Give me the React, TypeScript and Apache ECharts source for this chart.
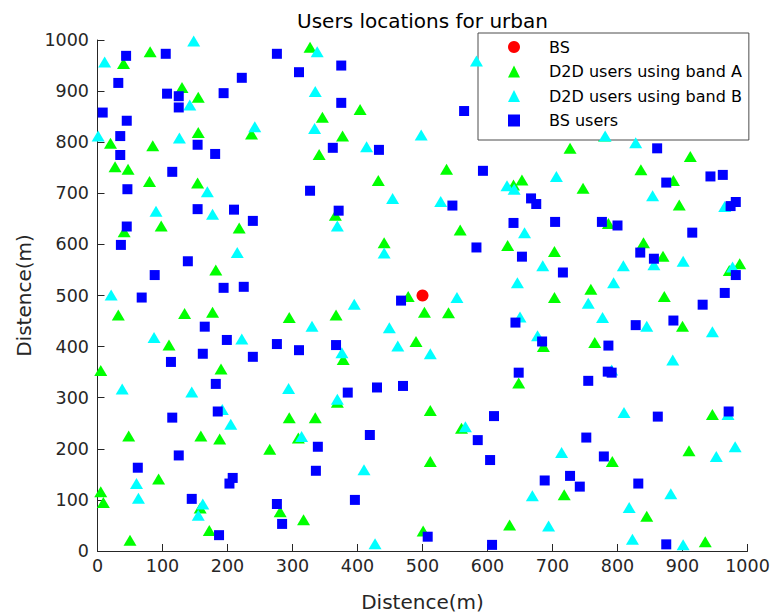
import React, { useEffect, useRef } from "react";
import * as echarts from "echarts";

const titleText = "Users locations for urban";
const xAxisName = "Distence(m)";
const yAxisName = "Distence(m)";
const seriesNames = ["BS", "D2D users using band A", "D2D users using band B", "BS users"];

const bsPoints: [number, number][] = [[500, 500]];

const bandAPoints: [number, number][] = [
  [327, 986], [81, 977], [40, 954], [130, 907], [155, 888], [155, 819], [237, 816], [20, 798], [85, 793],
  [27, 752], [47, 747], [80, 723], [154, 720], [404, 864], [346, 849], [377, 812], [341, 776], [537, 747],
  [432, 725], [653, 726], [640, 716], [780, 812], [727, 788], [912, 772], [836, 746], [886, 725], [747, 710],
  [895, 677], [41, 625], [98, 636], [218, 632], [182, 550], [32, 462], [134, 465], [177, 467], [295, 457],
  [110, 403], [5, 353], [190, 356], [366, 657], [558, 628], [441, 603], [631, 598], [478, 498], [503, 467],
  [540, 466], [367, 462], [490, 410], [378, 375], [648, 329], [786, 641], [840, 603], [870, 577], [703, 586],
  [988, 562], [972, 549], [759, 512], [703, 496], [872, 498], [900, 440], [686, 400], [765, 408], [295, 261],
  [335, 261], [48, 225], [159, 225], [188, 219], [309, 221], [265, 199], [94, 141], [5, 116], [9, 95],
  [158, 84], [281, 77], [317, 61], [172, 40], [50, 21], [369, 291], [512, 275], [560, 240], [512, 175],
  [501, 39], [634, 51], [946, 267], [792, 175], [910, 196], [718, 110], [845, 68], [935, 18],
];

const bandBPoints: [number, number][] = [
  [148, 998], [11, 957], [142, 873], [1, 812], [126, 808], [242, 830], [169, 703], [338, 977], [583, 959],
  [335, 899], [334, 827], [498, 814], [414, 791], [454, 690], [528, 684], [630, 715], [641, 708], [781, 812],
  [828, 799], [706, 733], [854, 695], [965, 674], [90, 665], [177, 659], [215, 584], [21, 501], [87, 418],
  [222, 415], [330, 440], [369, 636], [657, 623], [441, 583], [646, 525], [553, 496], [395, 483], [449, 437],
  [650, 458], [462, 401], [512, 386], [376, 388], [856, 560], [685, 558], [809, 558], [901, 567], [977, 556],
  [794, 525], [755, 485], [777, 457], [845, 440], [946, 429], [677, 421], [885, 374], [791, 354], [38, 317],
  [145, 311], [294, 318], [192, 277], [205, 248], [314, 224], [60, 132], [63, 103], [162, 92], [155, 70],
  [369, 297], [566, 243], [410, 159], [427, 14], [810, 271], [970, 267], [714, 193], [981, 204], [952, 185],
  [669, 108], [882, 112], [818, 85], [694, 49], [823, 23], [901, 12],
];

const bsUserPoints: [number, number][] = [
  [44, 969], [105, 973], [276, 973], [222, 926], [310, 937], [32, 916], [107, 895], [125, 890], [125, 868],
  [194, 896], [8, 858], [45, 842], [35, 812], [154, 795], [181, 777], [35, 775], [115, 742], [46, 708],
  [327, 705], [154, 669], [210, 668], [375, 950], [375, 877], [564, 861], [362, 789], [433, 785], [593, 744],
  [371, 666], [546, 676], [667, 690], [675, 679], [861, 788], [875, 721], [943, 733], [962, 736], [982, 683],
  [974, 675], [45, 635], [36, 599], [239, 646], [139, 567], [88, 540], [194, 515], [225, 517], [68, 496],
  [165, 439], [199, 413], [276, 405], [310, 393], [162, 386], [239, 380], [113, 370], [182, 327], [640, 642],
  [583, 594], [653, 576], [467, 490], [643, 447], [367, 403], [648, 349], [704, 644], [776, 644], [800, 637],
  [915, 623], [835, 584], [856, 572], [982, 540], [716, 545], [965, 505], [931, 482], [828, 442], [886, 451],
  [684, 410], [786, 402], [785, 351], [791, 349], [755, 333], [185, 273], [115, 261], [125, 187], [62, 163],
  [208, 143], [203, 132], [145, 102], [276, 92], [284, 53], [187, 31], [385, 310], [430, 320], [470, 323],
  [610, 264], [419, 227], [585, 217], [339, 204], [604, 178], [336, 157], [396, 100], [508, 28], [607, 12],
  [862, 263], [971, 273], [752, 222], [779, 185], [688, 138], [727, 147], [742, 126], [832, 132], [875, 13],
];

const FONT = "DejaVu Sans";
const AXIS_COLOR = "#262626";

export default function App() {
  const ref = useRef<HTMLDivElement>(null);
  useEffect(() => {
    if (!ref.current) return;
    const chart = echarts.init(ref.current, undefined, { renderer: "svg" });
    const axisLabel = {
      fontFamily: FONT,
      fontSize: 17.5,
      color: AXIS_COLOR,
      lineHeight: 18,
      formatter: (v: number) => String(v),
    };
    const axisCommon = {
      type: "value" as const,
      min: 0,
      max: 1000,
      interval: 100,
      nameLocation: "middle" as const,
      nameTextStyle: { fontFamily: FONT, fontSize: 20, color: AXIS_COLOR, lineHeight: 20 },
      axisLine: { show: true, onZero: false, lineStyle: { color: AXIS_COLOR, width: 1 } },
      axisTick: { show: true, inside: true, length: 7, lineStyle: { color: AXIS_COLOR } },
      splitLine: { show: false },
    };
    chart.setOption({
      animation: false,
      backgroundColor: "#ffffff",
      title: {
        text: titleText,
        left: 422.5,
        top: 11,
        padding: 0,
        textAlign: "center",
        textStyle: { fontFamily: FONT, fontSize: 20, fontWeight: "normal", color: "#000", lineHeight: 20 },
      },
      grid: { left: 97.5, right: 22.5, top: 40, bottom: 64, containLabel: false, outerBoundsMode: "none" },
      legend: {
        orient: "vertical",
        left: 478,
        top: 33,
        padding: [6, 7, 11.5, 30],
        itemWidth: 12,
        itemHeight: 12,
        itemGap: 8.5,
        backgroundColor: "#ffffff",
        borderColor: "#4d4d4d",
        borderWidth: 1,
        borderRadius: 0,
        textStyle: { fontFamily: FONT, fontSize: 16, color: "#000", lineHeight: 16, padding: [0, 0, 0, 24] },
        data: seriesNames,
      },
      xAxis: { ...axisCommon, name: xAxisName, nameGap: 41, axisLabel: { ...axisLabel, margin: 6 } },
      yAxis: { ...axisCommon, name: yAxisName, nameGap: 54.5, axisLabel: { ...axisLabel, margin: 8.5 } },
      series: [
        {
          name: seriesNames[0], type: "scatter", data: bsPoints, symbol: "circle", symbolSize: 12,
          itemStyle: { color: "#ff0000", opacity: 1 }, z: 2,
        },
        {
          name: seriesNames[1], type: "scatter", data: bandAPoints, symbol: "triangle", symbolSize: [13, 11],
          itemStyle: { color: "#00ff00", opacity: 1 }, z: 3,
        },
        {
          name: seriesNames[2], type: "scatter", data: bandBPoints, symbol: "triangle", symbolSize: [13, 11],
          itemStyle: { color: "#00ffff", opacity: 1 }, z: 4,
        },
        {
          name: seriesNames[3], type: "scatter", data: bsUserPoints, symbol: "rect", symbolSize: 10,
          itemStyle: { color: "#0000ff", opacity: 1 }, z: 5,
        },
      ],
    });
    return () => chart.dispose();
  }, []);
  return (
    <div
      ref={ref}
      style={{ position: "fixed", left: 0, top: 0, width: 770, height: 615 }}
    />
  );
}
